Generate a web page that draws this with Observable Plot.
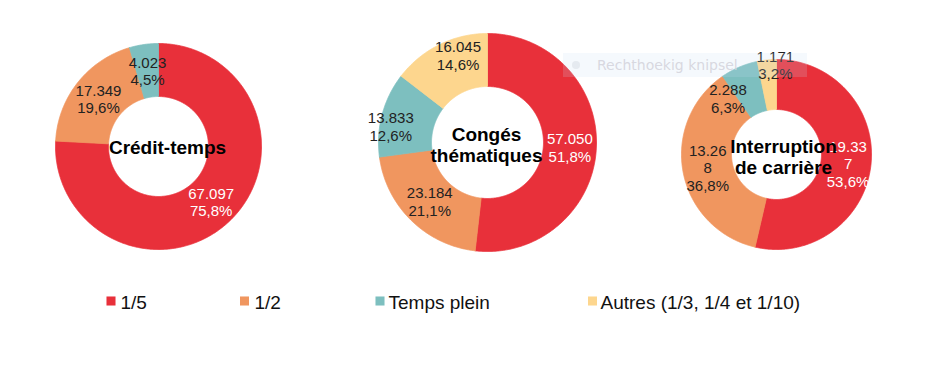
<!DOCTYPE html>
<html>
<head>
<meta charset="utf-8">
<script src="https://cdn.jsdelivr.net/npm/d3@7"></script>
<script src="https://cdn.jsdelivr.net/npm/@observablehq/plot@0.6"></script>
<style>
  html, body { margin: 0; padding: 0; background: #fff; }
  #wrap { position: relative; width: 945px; height: 383px; overflow: hidden; }
  #snip { position: absolute; left: 563px; top: 53px; width: 244px; height: 24px;
          background: rgba(200,220,245,0.18); font: 14px "DejaVu Sans", sans-serif;
          color: rgba(212,212,220,0.9); line-height: 24px; }
  #snip .dot { position: absolute; left: 9px; top: 8px; width: 8px; height: 8px; border-radius: 50%; background: rgba(200,205,215,0.35); }
  #snip .t { position: absolute; left: 34px; top: 0; }
</style>
</head>
<body>
<div id="wrap"><div id="chart"></div><div id="snip"><span class="dot"></span><span class="t">Rechthoekig knipsel</span></div></div>
<script>
// ---- data ----
const categories = ["1/5", "1/2", "Temps plein", "Autres (1/3, 1/4 et 1/10)"];
const colors = ["#E8303A", "#F0965F", "#7DBFBF", "#FDD68E"];
const chartTitles = ["Crédit-temps", "Congés\nthématiques", "Interruption\nde carrière"];
const creditTemps = [67097, 17349, 4023, 0];
const congesThematiques = [57050, 23184, 13833, 16045];
const interruptionCarriere = [19337, 13268, 2288, 1171];
const labelWrap = [false, false, true];

// ---- layout ----
const W = 945, H = 383;
const centers = [[158, 146], [487, 142], [776, 154]];
const outerR = [103, 109, 95];
const innerR = [50, 56, 45];
const titleOffset = [[9, 1], [-1, 2], [7, 2]];
// label nudges (dx, dy) per chart per slice, as placed in the original
const labelNudge = [
  [[0, 0], [0, 0], [0, 0], [0, 0]],
  [[0, 0], [0, 0], [-17, 5], [7, -13]],
  [[2, 1], [0, 0], [-21, 8], [6, -20]]
];
const legendSquareX = [110.5, 244, 379.5, 592];
const legendTextX = [120, 254, 388, 600];
const legendY = 300.5, legendTextY = 302;

const loc = d3.formatLocale({decimal: ",", thousands: ".", grouping: [3], currency: ["", " €"]});
const fmtNum = loc.format(",d");
const fmtPct = loc.format(".1%");

const series = [creditTemps, congesThematiques, interruptionCarriere];
const polys = [];
const labels = [];
series.forEach((vals, i) => {
  const total = d3.sum(vals);
  const [cx, cy] = centers[i];
  const R = outerR[i], r = innerR[i];
  const arcs = d3.pie().sort(null).value(d => d)(vals);
  arcs.forEach((a, j) => {
    if (!a.value) return;
    const key = i + "-" + j;
    const s = a.startAngle, e = a.endAngle;
    const n = Math.max(2, Math.ceil((e - s) / (Math.PI / 360)));
    const pts = [];
    for (let k = 0; k <= n; k++) {
      const t = s + (e - s) * k / n;
      pts.push({key, cat: categories[j], x: cx + R * Math.sin(t), y: cy - R * Math.cos(t)});
    }
    for (let k = n; k >= 0; k--) {
      const t = s + (e - s) * k / n;
      pts.push({key, cat: categories[j], x: cx + r * Math.sin(t), y: cy - r * Math.cos(t)});
    }
    pts.push({...pts[0]});
    polys.push(...pts);
    const m = (s + e) / 2, rm = (R + r) / 2;
    let num = fmtNum(a.value);
    if (labelWrap[i] && num.length > 5) num = num.slice(0, 5) + "\n" + num.slice(5);
    labels.push({
      j,
      x: cx + rm * Math.sin(m) + labelNudge[i][j][0],
      y: cy - rm * Math.cos(m) + labelNudge[i][j][1],
      text: num + "\n" + fmtPct(a.value / total)
    });
  });
});

const titles = chartTitles.map((t, i) => ({
  text: t,
  x: centers[i][0] + titleOffset[i][0],
  y: centers[i][1] + titleOffset[i][1]
}));

const plot = Plot.plot({
  width: W, height: H,
  margin: 0,
  x: {domain: [0, W], range: [0, W], axis: null},
  y: {domain: [0, H], range: [0, H], axis: null},
  color: {domain: categories, range: colors},
  style: {fontFamily: "'Liberation Sans', Arial, sans-serif", background: "#fff", color: "#111"},
  marks: [
    Plot.line(polys, {x: "x", y: "y", z: "key", fill: "cat", stroke: "cat", strokeWidth: 0.8, curve: "linear"}),
    Plot.text(labels.filter(d => d.j === 0), {x: "x", y: "y", text: "text", fill: "white", fontSize: 15, lineHeight: 1.17}),
    Plot.text(labels.filter(d => d.j !== 0), {x: "x", y: "y", text: "text", fill: "#222", fontSize: 15, lineHeight: 1.17}),
    Plot.text(titles, {x: "x", y: "y", text: "text", fill: "#000", fontSize: 19, fontWeight: "bold", lineHeight: 1.13}),
    Plot.dot(categories, {x: (d, i) => legendSquareX[i], y: () => legendY, symbol: "square", r: 5.1, fill: d => d, stroke: null}),
    Plot.text(categories, {x: (d, i) => legendTextX[i], y: () => legendTextY, text: d => d, textAnchor: "start", fontSize: 19, fill: "#111"})
  ]
});
document.getElementById("chart").appendChild(plot);
</script>
</body>
</html>
